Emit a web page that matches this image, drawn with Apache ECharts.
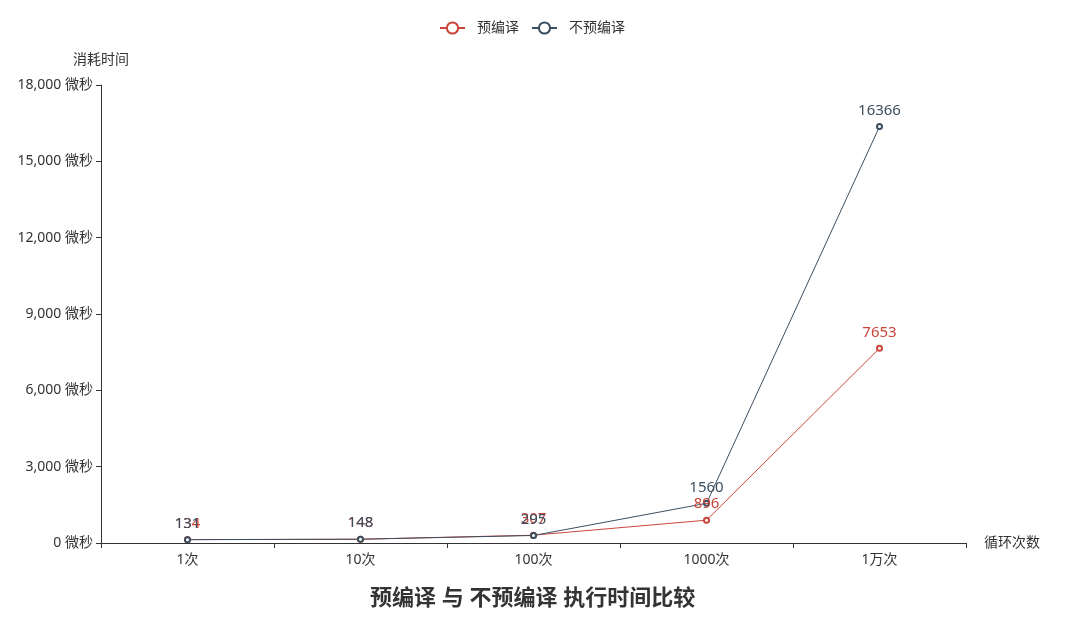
<!DOCTYPE html>
<html><head><meta charset="utf-8">
<script src="https://cdn.jsdelivr.net/npm/echarts@6/dist/echarts.min.js"></script>
<style>html,body{margin:0;padding:0;background:#fff}#c{width:1080px;height:635px}</style>
</head><body><div id="c"></div>
<script>
const categories = ['1次','10次','100次','1000次','1万次'];
const precompiled = [134, 148, 307, 896, 7653];
const notPrecompiled = [131, 148, 295, 1560, 16366];
const seriesNames = ['预编译','不预编译'];
const colors = ['#c9453a','#3b4f60'];
const chart = echarts.init(document.getElementById('c'));
const font = '"Noto Sans", "Noto Sans CJK SC", sans-serif';
chart.setOption({
  color: colors,
  textStyle: {fontFamily: font},
  title: {text: '预编译 与 不预编译 执行时间比较', left: 365, top: 583,
    textStyle: {fontSize: 22, fontWeight: 'bold', color: '#333', fontFamily: font}},
  legend: {data: seriesNames, top: 16, left: 434, itemWidth: 25, itemHeight: 14, itemGap: 12,
    textStyle: {fontSize: 14, color: '#333', padding: [0, 0, 0, 7]}},
  grid: {left: 101, right: 114, top: 85, bottom: 92},
  xAxis: {type: 'category', data: categories, name: '循环次数', nameGap: 18,
    nameTextStyle: {fontSize: 14, color: '#333'},
    axisLine: {lineStyle: {color: '#333'}},
    axisTick: {show: true, lineStyle: {color: '#333'}},
    axisLabel: {fontSize: 14, color: '#333', margin: 10}},
  yAxis: {type: 'value', name: '消耗时间', min: 0, max: 18000, interval: 3000,
    nameGap: 18, nameTextStyle: {fontSize: 14, color: '#333', align: 'center'},
    axisLine: {show: true, lineStyle: {color: '#333'}},
    axisTick: {show: true, lineStyle: {color: '#333'}},
    splitLine: {show: false},
    axisLabel: {fontSize: 14, color: '#333', formatter: function(v){return v.toLocaleString('en-US') + ' 微秒';}}},
  series: [
    {name: seriesNames[0], type: 'line', data: precompiled, symbol: 'emptyCircle', symbolSize: 5,
      lineStyle: {width: 1}, label: {show: true, position: 'top', fontSize: 15, color: colors[0]}},
    {name: seriesNames[1], type: 'line', data: notPrecompiled, symbol: 'emptyCircle', symbolSize: 5,
      lineStyle: {width: 1}, label: {show: true, position: 'top', fontSize: 15, color: colors[1]}}
  ]
});
</script></body></html>
